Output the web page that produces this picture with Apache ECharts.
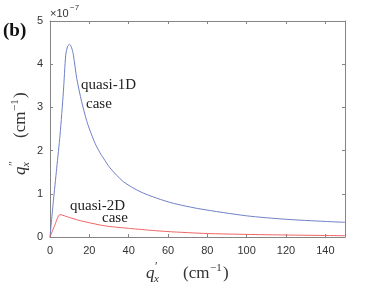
<!DOCTYPE html>
<html>
<head>
<meta charset="utf-8">
<script src="https://cdn.jsdelivr.net/npm/echarts@6/dist/echarts.min.js"></script>
<style>
html,body{margin:0;padding:0;background:#fff;}
#c{width:382px;height:286px;}
</style>
</head>
<body>
<div id="c"></div>
<script>
// Data (y values in units of 1e-7 cm^-1)
var x1D = [0, 1.7, 3.4, 5.1, 6.8, 8, 9, 10, 11, 11.9, 13.6, 16.1, 18.6, 20.3, 22.9, 25.4, 27.1, 30.5, 37.3, 45.8, 54.2, 62.7, 76.3, 100, 120, 140, 150];
var y1D = [0, 0.82, 1.59, 2.36, 3.36, 4.21, 4.42, 4.46, 4.38, 4.21, 3.67, 3.13, 2.70, 2.47, 2.17, 1.95, 1.83, 1.60, 1.28, 1.05, 0.90, 0.78, 0.65, 0.49, 0.41, 0.36, 0.34];
var x2D = [0, 2.5, 5, 10, 14.4, 20, 26.3, 30, 40, 50, 60, 80, 100, 120, 150];
var y2D = [0, 0.28, 0.52, 0.45, 0.39, 0.33, 0.27, 0.245, 0.20, 0.16, 0.125, 0.08, 0.06, 0.046, 0.03];
var xTicks = [0, 20, 40, 60, 80, 100, 120, 140];
var yTicks = [0, 1, 2, 3, 4, 5];
var labels = ['quasi-1D', 'case', 'quasi-2D', 'case'];

function pairs(xs, ys) { return xs.map(function (v, i) { return [v, ys[i]]; }); }

var axisCol = '#858585';
var labCol = '#333333';
var serif = '"Liberation Serif", "DejaVu Serif", serif';
var sans = '"Liberation Sans", Arial, sans-serif';

function axisTitle(prime, pos, rot) {
  var t = function (txt, x, y, font) {
    return {type: 'text', x: x, y: y, style: {text: txt, font: font, fill: labCol, verticalAlign: 'middle', align: 'left'}};
  };
  return {
    type: 'group', x: pos[0], y: pos[1], rotation: rot,
    children: [
      t('q', -44, 0, 'italic 17px ' + serif),
      t(prime, -35, -7, '12px ' + serif),
      t('x', -36, 5, 'italic 11px ' + serif),
      t('(cm', -7, 0, '17px ' + serif),
      t('−1', 20, -6, '11px ' + serif),
      t(')', 33, 0, '17px ' + serif)
    ]
  };
}

var chart = echarts.init(document.getElementById('c'), null, {renderer: 'canvas'});
var xBase = {
  type: 'value', min: 0, max: 150, interval: 20,
  axisLine: {show: true, onZero: false, lineStyle: {color: axisCol, width: 1}},
  axisTick: {show: true, inside: true, length: 3, lineStyle: {color: axisCol}},
  splitLine: {show: false}
};
var yBase = {
  type: 'value', min: 0, max: 5, interval: 1,
  axisLine: {show: true, onZero: false, lineStyle: {color: axisCol, width: 1}},
  axisTick: {show: true, inside: true, length: 3, lineStyle: {color: axisCol}},
  splitLine: {show: false}
};

chart.setOption({
  animation: false,
  backgroundColor: '#ffffff',
  grid: {left: 50, right: 37, top: 21, bottom: 49, containLabel: false, outerBoundsMode: 'none'},
  xAxis: [
    Object.assign({}, xBase, {
      position: 'bottom',
      axisLabel: {
        color: labCol, fontFamily: sans, fontSize: 11, margin: 8,
        formatter: function (v) { return xTicks.indexOf(v) >= 0 ? String(v) : ''; }
      }
    }),
    Object.assign({}, xBase, {position: 'top', axisLabel: {show: false}})
  ],
  yAxis: [
    Object.assign({}, yBase, {
      position: 'left',
      axisLabel: {
        color: labCol, fontFamily: sans, fontSize: 11, margin: 7,
        formatter: function (v) { return yTicks.indexOf(v) >= 0 ? String(v) : ''; }
      }
    }),
    Object.assign({}, yBase, {position: 'right', axisLabel: {show: false}})
  ],
  series: [
    {
      type: 'line', name: 'quasi-1D', data: pairs(x1D, y1D), xAxisIndex: 0, yAxisIndex: 0,
      showSymbol: false, smooth: 0.25, lineStyle: {color: '#6f80c6', width: 1}, z: 3
    },
    {
      type: 'line', name: 'quasi-2D', data: pairs(x2D, y2D), xAxisIndex: 0, yAxisIndex: 0,
      showSymbol: false, smooth: 0.2, lineStyle: {color: '#ef6464', width: 1}, z: 3
    }
  ],
  graphic: [
    {type: 'text', left: 3, top: 22, style: {text: '(b)', font: 'bold 19px ' + serif, fill: '#111'}},
    {type: 'text', left: 50, top: 8, style: {text: '×10', font: '11px ' + sans, fill: labCol}},
    {type: 'text', left: 70, top: 4, style: {text: '−7', font: '8px ' + sans, fill: labCol}},
    {type: 'text', left: 81, top: 78, style: {text: labels[0], font: '15px ' + serif, fill: '#222'}},
    {type: 'text', left: 86, top: 97, style: {text: labels[1], font: '15px ' + serif, fill: '#222'}},
    {type: 'text', left: 70, top: 199, style: {text: labels[2], font: '15px ' + serif, fill: '#222'}},
    {type: 'text', left: 102, top: 211, style: {text: labels[3], font: '15px ' + serif, fill: '#222'}},
    axisTitle('′', [190, 274], 0),
    axisTitle('″', [21, 131], Math.PI / 2)
  ]
});
</script>
</body>
</html>
